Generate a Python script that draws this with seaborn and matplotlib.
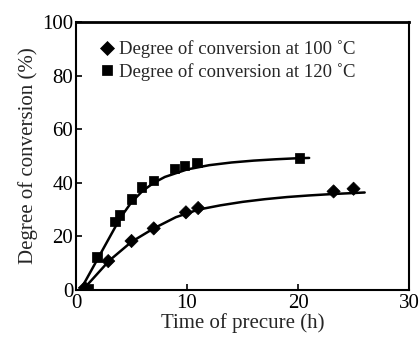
#!/usr/bin/python3
"""Degree of conversion vs time of precure."""

import matplotlib
matplotlib.use('Agg')
import matplotlib.pyplot as plt
import seaborn as sns
import pandas as pd

# %% data ----
t_100 = [0.8, 2.9, 5.0, 7.0, 9.9, 11.0, 23.2, 25.0]
conv_100 = [0.8, 10.8, 18.3, 23.0, 29.0, 30.6, 36.8, 37.8]

t_120 = [1.1, 1.9, 3.5, 3.9, 5.0, 5.9, 7.0, 8.9, 9.8, 10.9, 20.1]
conv_120 = [0.5, 12.3, 25.5, 28.0, 34.0, 38.4, 40.9, 45.3, 46.5, 47.5, 49.3]

# fitted curves as drawn
fit_t_100 = [0.6, 3.0, 5.0, 7.0, 9.0, 11.0, 13.0, 15.0, 17.0, 19.0, 21.0, 23.0, 26.0]
fit_c_100 = [0.0, 11.0, 18.0, 23.0, 27.2, 30.0, 31.6, 32.9, 33.9, 34.7, 35.3, 35.8, 36.4]

fit_t_120 = [0.4, 2.0, 4.0, 5.0, 6.0, 7.0, 8.0, 10.0, 12.0, 14.0, 16.0, 18.0, 20.0, 21.0]
fit_c_120 = [0.0, 12.0, 27.0, 32.8, 37.0, 40.0, 42.2, 45.0, 46.6, 47.6, 48.3, 48.8, 49.2, 49.3]

df = pd.DataFrame({
    'time': t_100 + t_120,
    'conv': conv_100 + conv_120,
    'series': ['Degree of conversion at 100 \u02daC'] * len(t_100)
              + ['Degree of conversion at 120 \u02daC'] * len(t_120),
})

# %% plot ----
sns.set_theme(style='ticks')
plt.rcParams['font.family'] = ['Liberation Serif', 'DejaVu Serif']

fig = plt.figure(figsize=(4.2, 3.4), dpi=100)
ax = fig.add_axes([0.181, 0.147, 0.793, 0.788])

sns.lineplot(x=fit_t_100, y=fit_c_100, color='black', lw=1.8, ax=ax)
sns.lineplot(x=fit_t_120, y=fit_c_120, color='black', lw=1.8, ax=ax)
sns.scatterplot(data=df, x='time', y='conv', hue='series', style='series',
                markers=['D', 's'], palette=['black', 'black'],
                s=45, edgecolor='black', ax=ax, zorder=3)

ax.set_xlim(0, 30)
ax.set_ylim(0, 100)
ax.set_xticks([0, 10, 20, 30])
ax.set_yticks([0, 20, 40, 60, 80, 100])
ax.tick_params(direction='in', length=4, width=1.2, labelsize=15,
               colors='black')
ax.tick_params(axis='x', pad=3)
ax.tick_params(axis='y', pad=2)
for sp in ax.spines.values():
    sp.set_linewidth(1.5)
    sp.set_color('black')
ax.spines['top'].set_linewidth(2.0)

ax.set_xlabel('Time of precure (h)', fontsize=15, labelpad=0)
ax.set_ylabel('Degree of conversion (%)', fontsize=15, labelpad=3)

leg = ax.legend(loc='upper left', bbox_to_anchor=(0.05, 0.96), frameon=False,
                fontsize=13.5, handlelength=0.7, handletextpad=0.3,
                labelspacing=0.25, borderaxespad=0)
for h in leg.legend_handles:
    h.set_markersize(7)

fig.savefig('out.png', dpi=100)
